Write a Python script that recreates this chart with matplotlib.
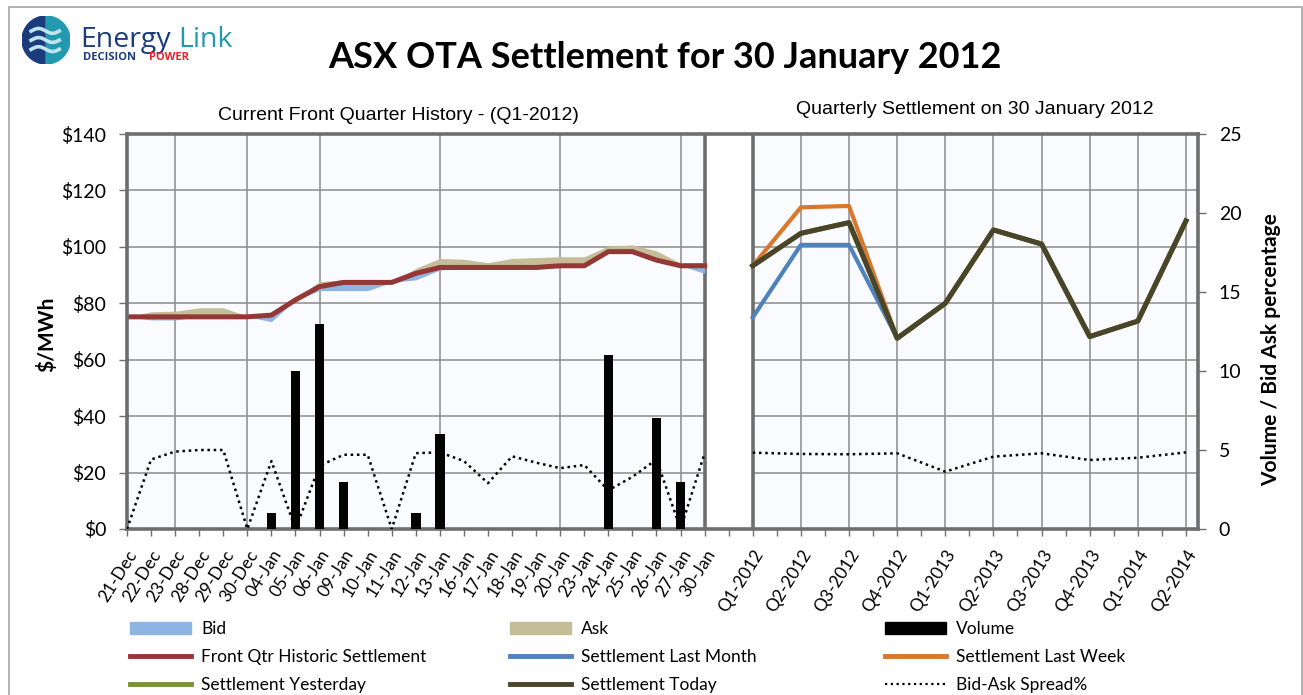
#!/usr/bin/env python3
"""ASX OTA settlement chart: front quarter history + quarterly settlement curve."""

import matplotlib
matplotlib.use("Agg")
import matplotlib.pyplot as plt
import numpy as np
import pandas as pd
from matplotlib.lines import Line2D
from matplotlib.patches import Rectangle, Wedge

# ---------------------------------------------------------------------------
# Data
# ---------------------------------------------------------------------------
DATES = ["21-Dec", "22-Dec", "23-Dec", "28-Dec", "29-Dec", "30-Dec", "04-Jan",
         "05-Jan", "06-Jan", "09-Jan", "10-Jan", "11-Jan", "12-Jan", "13-Jan",
         "16-Jan", "17-Jan", "18-Jan", "19-Jan", "20-Jan", "23-Jan", "24-Jan",
         "25-Jan", "26-Jan", "27-Jan", "30-Jan"]

FRONT_QTR = [75.2, 75.2, 75.2, 75.2, 75.2, 75.2, 75.8, 81.2, 85.9, 87.4, 87.4,
             87.4, 90.6, 92.7, 92.7, 92.7, 92.7, 92.7, 93.3, 93.3, 98.3, 98.3,
             95.3, 93.3, 93.3]
BID = [75.2, 74.1, 74.1, 75.2, 75.2, 75.2, 73.5, 81.2, 84.5, 84.5, 84.5, 87.4,
       88.3, 91.8, 92.2, 92.2, 92.2, 92.4, 92.8, 92.8, 98.3, 98.3, 94.8, 93.3,
       90.6]
ASK = [75.2, 77.0, 77.2, 78.4, 78.4, 75.5, 75.8, 81.8, 87.7, 88.3, 88.0, 87.4,
       92.4, 95.9, 95.6, 94.4, 95.9, 96.2, 96.5, 96.5, 100.3, 100.7, 98.6,
       94.2, 94.4]
VOLUME = [0, 0, 0, 0, 0, 0, 1, 10, 13, 3, 0, 0, 1, 6, 0, 0, 0, 0, 0, 0, 11, 0,
          7, 3, 0]
SPREAD = [0, 4.4, 4.9, 5.0, 5.0, 0, 4.3, 0, 4.0, 4.7, 4.7, 0, 4.8, 4.85, 4.3,
          2.9, 4.6, 4.2, 3.85, 4.05, 2.45, 3.3, 4.4, 0, 4.8]

QUARTERS = ["Q1-2012", "Q2-2012", "Q3-2012", "Q4-2012", "Q1-2013", "Q2-2013",
            "Q3-2013", "Q4-2013", "Q1-2014", "Q2-2014"]
LAST_MONTH = [75.0, 100.7, 100.7, 67.6, 80.0, 106.0, 101.0, 68.2, 73.7, 109.2]
LAST_WEEK = [93.3, 114.0, 114.5, 67.6, 80.0, 106.0, 101.0, 68.2, 73.7, 109.2]
YESTERDAY = [93.3, 104.8, 108.6, 67.6, 80.0, 106.0, 101.0, 68.2, 73.7, 109.2]
TODAY = [93.3, 104.8, 108.6, 67.6, 80.0, 106.0, 101.0, 68.2, 73.7, 109.2]
Q_SPREAD = [4.83, 4.75, 4.73, 4.79, 3.63, 4.58, 4.79, 4.37, 4.51, 4.85]

# ---------------------------------------------------------------------------
# Style
# ---------------------------------------------------------------------------
C_BID = "#8DB4E2"
C_ASK = "#C4BD97"
C_FRONT = "#953735"
C_MONTH = "#4F81BD"
C_WEEK = "#D9782D"
C_YEST = "#77933C"
C_TODAY = "#4A452A"
C_FRAME = "#6E6E6E"
C_GRID = "#8C8C8C"

FONT = "Lato"
W, H = 1303, 695


def fx(px):
    return px / W


def fy(py):
    return 1 - py / H


fig = plt.figure(figsize=(W / 100, H / 100), dpi=100)

# outer chart border
fig.patches.append(Rectangle((fx(9), -0.02), fx(1302) - fx(9), fy(7) + 0.02,
                             transform=fig.transFigure, fill=False,
                             edgecolor="#A6A6A6", lw=1.2))

ax = fig.add_axes([fx(127), fy(529), fx(1198) - fx(127), (529 - 134) / H])
ax.set_facecolor("#F9FBFE")

n = len(DATES)
x_d = np.arange(n)
q0 = n + 1
x_q = q0 + 2 * np.arange(len(QUARTERS))

ax.set_xlim(0, x_q[-1] + 0.5)
ax.set_ylim(0, 140)

# gridlines: horizontal every $20, weekly (Fridays) on the date part, each quarter
for yv in range(20, 140, 20):
    ax.axhline(yv, color=C_GRID, lw=1.1, zorder=1)
days = pd.to_datetime([d + ("-2011" if "Dec" in d else "-2012") for d in DATES],
                      format="%d-%b-%Y")
for xi, d in zip(x_d, days):
    if d.weekday() == 4:
        ax.axvline(xi, color=C_GRID, lw=1.1, zorder=1)
for xi in x_q[1:]:
    ax.axvline(xi, color=C_GRID, lw=1.1, zorder=1)

# separator between the two panels
ax.axvspan(x_d[-1], q0, facecolor="white", edgecolor="none", zorder=1.5)
ax.axvline(x_d[-1], color=C_FRAME, lw=2.6, zorder=1.6)
ax.axvline(q0, color=C_FRAME, lw=2.6, zorder=1.6)

# bid / ask bands around the front quarter settlement
ax.fill_between(x_d, BID, FRONT_QTR, color=C_BID, lw=0, zorder=2)
ax.fill_between(x_d, FRONT_QTR, ASK, color=C_ASK, lw=0, zorder=2)
ax.plot(x_d, FRONT_QTR, color=C_FRONT, lw=3.6, zorder=3)

ax.plot(x_q, LAST_MONTH, color=C_MONTH, lw=3.0, zorder=3)
ax.plot(x_q, LAST_WEEK, color=C_WEEK, lw=3.0, zorder=3.1)
ax.plot(x_q, YESTERDAY, color=C_YEST, lw=3.6, zorder=3.2)
ax.plot(x_q, TODAY, color=C_TODAY, lw=3.6, zorder=3.3)

for s in ax.spines.values():
    s.set_color(C_FRAME)
    s.set_linewidth(2.6)
    s.set_zorder(5)

ax.set_yticks(range(0, 141, 20))
ax.set_yticklabels([f"${v}" for v in range(0, 141, 20)])
ticks = list(range(int(x_q[-1]) + 1))
labels = [""] * len(ticks)
for xi, lab in zip(x_d, DATES):
    labels[xi] = lab
for xi, lab in zip(x_q, QUARTERS):
    labels[xi] = lab
ax.set_xticks(ticks)
ax.set_xticklabels(labels, rotation=58, ha="right", va="top",
                   rotation_mode="anchor", fontfamily=FONT, fontsize=12.5)
ax.tick_params(axis="x", length=5, width=1, color=C_FRAME, pad=8)
ax.tick_params(axis="y", length=6, width=1, color=C_FRAME, pad=9,
               labelsize=14)
for t in ax.get_yticklabels():
    t.set_fontfamily(FONT)

# secondary axis: volume and bid-ask spread
ax2 = ax.twinx()
ax2.set_ylim(0, 25)
ax2.bar(x_d, VOLUME, width=0.39, color="black", zorder=2)
ax2.plot(x_d, SPREAD, color="black", lw=1.8, ls=(0, (1, 1.5)), zorder=3)
ax2.plot(x_q, Q_SPREAD, color="black", lw=1.8, ls=(0, (1, 1.5)), zorder=3)
ax2.set_yticks(range(0, 26, 5))
ax2.tick_params(axis="y", length=6, width=1, color=C_FRAME, pad=9,
                labelsize=14)
for t in ax2.get_yticklabels():
    t.set_fontfamily(FONT)
for s in ax2.spines.values():
    s.set_visible(False)

# texts
fig.text(fx(665), fy(57), "ASX OTA Settlement for 30 January 2012",
         ha="center", va="center", fontsize=26, fontweight="bold",
         fontfamily=FONT)
fig.text(fx(398), fy(115), "Current Front Quarter History - (Q1-2012)",
         ha="center", va="center", fontsize=14, fontfamily="Liberation Sans")
fig.text(fx(975), fy(110), "Quarterly Settlement on 30 January 2012",
         ha="center", va="center", fontsize=14, fontfamily="Liberation Sans")
fig.text(fx(47), fy(334), "$/MWh", rotation=90, ha="center", va="center",
         fontsize=15, fontweight="bold", fontfamily=FONT)
fig.text(fx(1271), fy(350), "Volume / Bid Ask percentage", rotation=90,
         ha="center", va="center", fontsize=15, fontweight="bold",
         fontfamily=FONT)

# logo
lax = fig.add_axes([fx(22), fy(64), 48 / W, 48 / H])
lax.set_xlim(-1, 1)
lax.set_ylim(-1, 1)
lax.set_aspect("equal")
lax.axis("off")
lax.add_patch(Wedge((0, 0), 1, 90, 270, color="#1B3C7C"))
lax.add_patch(Wedge((0, 0), 1, -90, 90, color="#2399B0"))
wx = np.linspace(-0.62, 0.55, 40)
for off in (0.38, 0.0, -0.38):
    lax.plot(wx, off + 0.1 * np.sin((wx + 0.6) * 5.4), color="#BFE6EE", lw=2.6)
fig.text(fx(80), fy(47), "Energy", fontsize=20.5, color="#1B3C7C",
         fontfamily="Open Sans", va="baseline")
fig.text(fx(178), fy(47), "Link", fontsize=20.5, color="#2399B0",
         fontfamily="Open Sans", va="baseline")
fig.text(fx(83), fy(60), "DECISION", fontsize=8, color="#1B3C7C",
         fontweight="bold", fontfamily="Open Sans", va="baseline")
fig.text(fx(149), fy(60), "POWER", fontsize=8, color="#E2242B",
         fontweight="bold", fontfamily="Open Sans", va="baseline")

# legend, three columns laid out like the original
cols = [
    [(Rectangle((0, 0), 1, 1, color=C_BID), "Bid"),
     (Line2D([], [], color=C_FRONT, lw=3.5), "Front Qtr Historic Settlement"),
     (Line2D([], [], color=C_YEST, lw=3.5), "Settlement Yesterday")],
    [(Rectangle((0, 0), 1, 1, color=C_ASK), "Ask"),
     (Line2D([], [], color=C_MONTH, lw=3.5), "Settlement Last Month"),
     (Line2D([], [], color=C_TODAY, lw=3.5), "Settlement Today")],
    [(Rectangle((0, 0), 1, 1, color="black"), "Volume"),
     (Line2D([], [], color=C_WEEK, lw=3.5), "Settlement Last Week"),
     (Line2D([], [], color="black", lw=1.6, ls=(0, (1, 1.6))), "Bid-Ask Spread%")],
]
for px, col in zip((130, 510, 885), cols):
    handles, labs = zip(*col)
    fig.legend(handles, labs, loc="upper left",
               bbox_to_anchor=(fx(px), fy(621)), frameon=False,
               prop={"family": FONT, "size": 12.5}, handlelength=3.5,
               handleheight=0.75, handletextpad=0.6, labelspacing=0.7,
               borderaxespad=0, borderpad=0)

fig.savefig("out.png", dpi=100)
